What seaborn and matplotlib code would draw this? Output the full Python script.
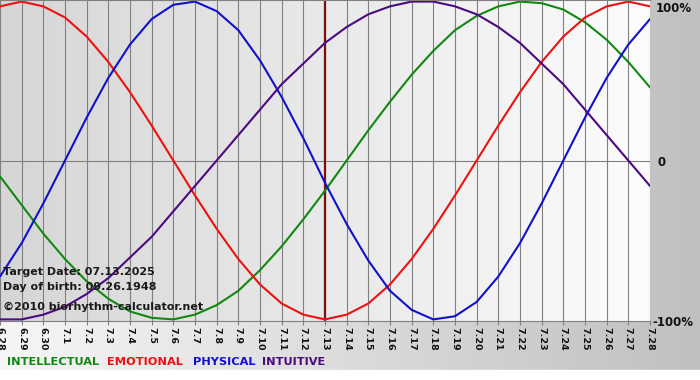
import numpy as np
import pandas as pd
import matplotlib
matplotlib.use("Agg")
import matplotlib.pyplot as plt
import seaborn as sns
from matplotlib.colors import LinearSegmentedColormap

# ---- data ----
dates = ["6.28", "6.29", "6.30", "7.1", "7.2", "7.3", "7.4", "7.5", "7.6", "7.7",
         "7.8", "7.9", "7.10", "7.11", "7.12", "7.13", "7.14", "7.15", "7.16", "7.17",
         "7.18", "7.19", "7.20", "7.21", "7.22", "7.23", "7.24", "7.25", "7.26", "7.27",
         "7.28"]
intellectual = [-0.10, -0.28, -0.46, -0.62, -0.76, -0.87, -0.95, -0.99, -1.00, -0.97,
                -0.91, -0.82, -0.69, -0.54, -0.37, -0.19, 0.00, 0.19, 0.37, 0.54,
                0.69, 0.82, 0.91, 0.97, 1.00, 0.99, 0.95, 0.87, 0.76, 0.62, 0.46]
emotional = [0.97, 1.00, 0.97, 0.90, 0.78, 0.62, 0.43, 0.22, 0.00, -0.22,
             -0.43, -0.62, -0.78, -0.90, -0.97, -1.00, -0.97, -0.90, -0.78, -0.62,
             -0.43, -0.22, 0.00, 0.22, 0.43, 0.62, 0.78, 0.90, 0.97, 1.00, 0.97]
physical = [-0.73, -0.52, -0.27, 0.00, 0.27, 0.52, 0.73, 0.89, 0.98, 1.00,
            0.94, 0.82, 0.63, 0.40, 0.14, -0.14, -0.40, -0.63, -0.82, -0.94,
            -1.00, -0.98, -0.89, -0.73, -0.52, -0.27, 0.00, 0.27, 0.52, 0.73, 0.89]
intuitive = [-1.00, -1.00, -0.97, -0.92, -0.84, -0.74, -0.61, -0.48, -0.32, -0.16,
             0.00, 0.16, 0.32, 0.48, 0.61, 0.74, 0.84, 0.92, 0.97, 1.00,
             1.00, 0.97, 0.92, 0.84, 0.74, 0.61, 0.48, 0.32, 0.16, 0.00, -0.16]
series_names = ["INTELLECTUAL", "EMOTIONAL", "PHYSICAL", "INTUITIVE"]
target_label = "7.13"
y_labels = ["100%", "0", "-100%"]

colors = {"INTELLECTUAL": "#118811", "EMOTIONAL": "#ee1111",
          "PHYSICAL": "#1111cc", "INTUITIVE": "#4a0a80"}

rows = []
for name, vals in zip(series_names, [intellectual, emotional, physical, intuitive]):
    for i, v in enumerate(vals):
        rows.append({"day": i, "value": v, "rhythm": name})
df = pd.DataFrame(rows)

sns.set_theme(style="white")
plt.rcParams["font.family"] = ["DejaVu Sans"]

W, H = 700, 380
fig = plt.figure(figsize=(W / 100, H / 100), dpi=100)

# figure background gradient
bg = fig.add_axes([0, 0, 1, 1], zorder=0)
grad = np.linspace(0, 1, 256)[None, :]
cm_bg = LinearSegmentedColormap.from_list("bg", ["#f6f6f6", "#c0c0c0"])
bg.imshow(grad, aspect="auto", cmap=cm_bg, extent=[0, 1, 10 / H, 1])
bg.axhspan(0, 10 / H, color="white")
bg.set_xlim(0, 1)
bg.set_ylim(0, 1)
bg.axis("off")

# main axes
ax = fig.add_axes([0, (H - 321) / H, 650 / W, 321 / H], zorder=1)
n = len(dates)
cm_plot = LinearSegmentedColormap.from_list("pl", ["#d6d6d6", "#fcfcfc"])
ax.imshow(grad, aspect="auto", cmap=cm_plot, extent=[0, n - 1, -1.01, 1.01], zorder=0)

for i in range(n):
    ax.axvline(i, color="#808080", lw=0.8, zorder=1)
ax.axhline(0, color="#808080", lw=0.8, zorder=1)
ax.axvline(dates.index(target_label), color="#7a1010", lw=1.6, zorder=1.5)

sns.lineplot(data=df, x="day", y="value", hue="rhythm", palette=colors,
             hue_order=series_names, ax=ax, linewidth=1.5, legend=False, zorder=2)

ax.set_xlim(0, n - 1)
ax.set_ylim(-1.01, 1.01)
ax.set_xticks(range(n))
ax.set_xticklabels(dates, rotation=270, fontsize=6.8, fontweight="bold", color="#111111")
ax.set_yticks([])
ax.set_xlabel("")
ax.set_ylabel("")
ax.tick_params(axis="x", length=3, width=0.8, color="#808080", pad=1, bottom=True)
for s in ["left", "right"]:
    ax.spines[s].set_visible(False)
for s in ["top", "bottom"]:
    ax.spines[s].set_color("#808080")
    ax.spines[s].set_linewidth(0.8)

def ftext(x, y, s, **kw):
    fig.text(x / W, 1 - y / H, s, va="center", **kw)

# right labels
ftext(656, 8, y_labels[0], fontsize=8.5, fontweight="bold", color="#111111", zorder=5)
ftext(657, 162, y_labels[1], fontsize=8.5, fontweight="bold", color="#111111", zorder=5)
ftext(652, 322, y_labels[2], fontsize=8.5, fontweight="bold", color="#111111", zorder=5)

# info text
ftext(3, 272, "Target Date: 07.13.2025", fontsize=8, fontweight="bold", color="#1a1a1a", zorder=5)
ftext(3, 287, "Day of birth: 09.26.1948", fontsize=8, fontweight="bold", color="#1a1a1a", zorder=5)
ftext(3, 307, "\u00a92010 biorhythm-calculator.net", fontsize=8, fontweight="bold", color="#1a1a1a", zorder=5)

# legend text
leg_x = [7, 107, 193, 262]
for name, x in zip(series_names, leg_x):
    ftext(x, 362, name, fontsize=8.2, fontweight="bold", color=colors[name], zorder=5)

fig.savefig("out.png", dpi=100)
